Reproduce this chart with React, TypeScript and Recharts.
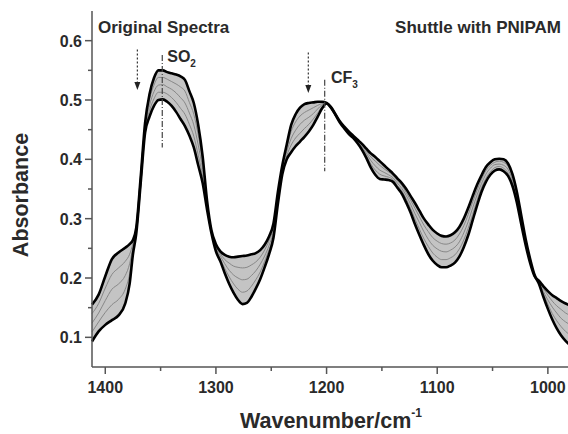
import {
  Area,
  ComposedChart,
  Line,
  ReferenceDot,
  ReferenceLine,
  XAxis,
  YAxis,
} from "recharts";

// wavenumbers (cm-1), plotted right-to-left
const wavenumbers = [
  1412, 1406, 1400, 1394, 1388, 1382, 1378, 1375, 1372, 1368, 1364, 1360, 1356, 1352, 1348, 1344,
  1340, 1336, 1332, 1328, 1324, 1320, 1316, 1312, 1308, 1304, 1300, 1296, 1292, 1288, 1284, 1280,
  1276, 1272, 1268, 1264, 1260, 1256, 1252, 1248, 1244, 1240, 1236, 1232, 1228, 1224, 1220, 1216,
  1212, 1208, 1204, 1200, 1196, 1192, 1188, 1184, 1180, 1176, 1172, 1168, 1164, 1160, 1156, 1152,
  1148, 1144, 1140, 1136, 1132, 1128, 1124, 1120, 1116, 1112, 1108, 1104, 1100, 1096, 1092, 1088,
  1084, 1080, 1076, 1072, 1068, 1064, 1060, 1056, 1052, 1048, 1044, 1040, 1036, 1032, 1028, 1024,
  1020, 1016, 1012, 1008, 1004, 1000, 996, 992, 988, 984, 980,
];

// first spectrum (black, top of the bundle)
const firstSpectrum = [
  0.155, 0.172, 0.203, 0.232, 0.243, 0.251, 0.257, 0.264, 0.285, 0.37, 0.462, 0.51, 0.537, 0.55, 0.55, 0.547,
  0.545, 0.543, 0.54, 0.534, 0.515, 0.495, 0.458, 0.405, 0.33, 0.28, 0.257, 0.245, 0.239, 0.236, 0.235, 0.236,
  0.237, 0.238, 0.24, 0.242, 0.247, 0.256, 0.27, 0.292, 0.345, 0.39, 0.425, 0.458, 0.476, 0.487, 0.493, 0.495,
  0.496, 0.497, 0.497, 0.495, 0.488, 0.476, 0.464, 0.455, 0.447, 0.44, 0.433, 0.426, 0.418, 0.41, 0.404, 0.397,
  0.39, 0.383, 0.376, 0.368, 0.36, 0.35, 0.338, 0.326, 0.313, 0.3, 0.29, 0.281, 0.275, 0.271, 0.27, 0.272,
  0.277, 0.286, 0.3, 0.318, 0.338, 0.357, 0.373, 0.387, 0.395, 0.4, 0.401, 0.4, 0.393, 0.375, 0.345, 0.305,
  0.265, 0.232, 0.205, 0.19, 0.168, 0.148, 0.13, 0.115, 0.103, 0.094, 0.087,
];

const spectrumQ1 = [
  0.14, 0.157, 0.183, 0.206, 0.217, 0.228, 0.24, 0.258, 0.283, 0.368, 0.458, 0.501, 0.525, 0.538, 0.538, 0.535,
  0.531, 0.527, 0.522, 0.515, 0.496, 0.476, 0.441, 0.394, 0.326, 0.279, 0.254, 0.241, 0.231, 0.225, 0.22, 0.218,
  0.217, 0.218, 0.222, 0.227, 0.235, 0.247, 0.263, 0.286, 0.34, 0.386, 0.419, 0.447, 0.463, 0.473, 0.479, 0.483,
  0.487, 0.491, 0.494, 0.495, 0.488, 0.476, 0.464, 0.454, 0.446, 0.439, 0.432, 0.424, 0.414, 0.404, 0.397, 0.39,
  0.384, 0.379, 0.373, 0.364, 0.356, 0.344, 0.331, 0.317, 0.303, 0.289, 0.278, 0.268, 0.262, 0.258, 0.257, 0.259,
  0.264, 0.274, 0.288, 0.307, 0.328, 0.348, 0.366, 0.381, 0.39, 0.395, 0.397, 0.395, 0.388, 0.37, 0.341, 0.301,
  0.263, 0.23, 0.205, 0.191, 0.173, 0.156, 0.14, 0.128, 0.118, 0.11, 0.104,
];

const spectrumQ2 = [
  0.124, 0.141, 0.162, 0.181, 0.19, 0.204, 0.224, 0.252, 0.28, 0.365, 0.454, 0.491, 0.514, 0.525, 0.526, 0.522,
  0.518, 0.512, 0.504, 0.495, 0.478, 0.458, 0.424, 0.383, 0.323, 0.278, 0.251, 0.237, 0.224, 0.213, 0.205, 0.2,
  0.197, 0.198, 0.204, 0.212, 0.223, 0.237, 0.255, 0.28, 0.335, 0.383, 0.413, 0.435, 0.449, 0.459, 0.466, 0.471,
  0.477, 0.485, 0.492, 0.495, 0.488, 0.476, 0.463, 0.454, 0.445, 0.438, 0.43, 0.421, 0.41, 0.398, 0.389, 0.382,
  0.378, 0.374, 0.369, 0.36, 0.351, 0.339, 0.324, 0.308, 0.293, 0.278, 0.265, 0.255, 0.249, 0.245, 0.244, 0.247,
  0.252, 0.261, 0.276, 0.295, 0.318, 0.34, 0.359, 0.375, 0.385, 0.391, 0.392, 0.39, 0.383, 0.365, 0.336, 0.298,
  0.26, 0.229, 0.204, 0.193, 0.177, 0.163, 0.151, 0.141, 0.132, 0.126, 0.121,
];

const spectrumQ3 = [
  0.109, 0.126, 0.142, 0.155, 0.164, 0.181, 0.207, 0.246, 0.278, 0.363, 0.449, 0.482, 0.502, 0.513, 0.513, 0.51,
  0.504, 0.496, 0.486, 0.476, 0.459, 0.439, 0.407, 0.371, 0.319, 0.276, 0.248, 0.232, 0.216, 0.202, 0.19, 0.181,
  0.176, 0.178, 0.186, 0.197, 0.21, 0.228, 0.248, 0.274, 0.33, 0.379, 0.406, 0.424, 0.436, 0.444, 0.452, 0.459,
  0.468, 0.478, 0.489, 0.494, 0.487, 0.475, 0.463, 0.453, 0.444, 0.437, 0.429, 0.419, 0.406, 0.392, 0.382, 0.375,
  0.372, 0.37, 0.366, 0.356, 0.347, 0.333, 0.317, 0.299, 0.282, 0.266, 0.253, 0.242, 0.235, 0.231, 0.231, 0.234,
  0.239, 0.249, 0.264, 0.284, 0.307, 0.331, 0.352, 0.368, 0.379, 0.386, 0.388, 0.385, 0.377, 0.36, 0.332, 0.294,
  0.258, 0.227, 0.204, 0.194, 0.182, 0.171, 0.161, 0.153, 0.147, 0.141, 0.137,
];

// last spectrum (black, bottom of the bundle)
const lastSpectrum = [
  0.093, 0.11, 0.121, 0.129, 0.137, 0.157, 0.19, 0.24, 0.275, 0.36, 0.445, 0.472, 0.49, 0.5, 0.501, 0.497,
  0.49, 0.48, 0.468, 0.456, 0.44, 0.42, 0.39, 0.36, 0.315, 0.275, 0.245, 0.228, 0.208, 0.19, 0.175, 0.163,
  0.156, 0.158, 0.168, 0.182, 0.198, 0.218, 0.24, 0.268, 0.325, 0.375, 0.4, 0.412, 0.422, 0.43, 0.438, 0.447,
  0.458, 0.472, 0.486, 0.494, 0.487, 0.475, 0.462, 0.452, 0.443, 0.436, 0.427, 0.416, 0.402, 0.386, 0.374, 0.367,
  0.366, 0.365, 0.362, 0.352, 0.342, 0.327, 0.31, 0.29, 0.272, 0.255, 0.24, 0.229, 0.222, 0.218, 0.218, 0.221,
  0.226, 0.236, 0.252, 0.272, 0.297, 0.322, 0.345, 0.362, 0.374, 0.381, 0.383, 0.38, 0.372, 0.355, 0.327, 0.29,
  0.255, 0.225, 0.203, 0.195, 0.186, 0.178, 0.171, 0.166, 0.161, 0.157, 0.154,
];

const xTicks = [1400, 1350, 1300, 1250, 1200, 1150, 1100, 1050, 1000];
const yTicks = [0.1, 0.15, 0.2, 0.25, 0.3, 0.35, 0.4, 0.45, 0.5, 0.55, 0.6];

const data = wavenumbers.map((wn, i) => ({
  wn,
  first: firstSpectrum[i],
  q1: spectrumQ1[i],
  q2: spectrumQ2[i],
  q3: spectrumQ3[i],
  last: lastSpectrum[i],
  band: [firstSpectrum[i], lastSpectrum[i]],
}));

const FONT = "'Liberation Sans', Arial, sans-serif";
const AXIS = "#555";
const TEXT = "#2a2a2a";

function XTick({ x, y, payload }: any) {
  const major = payload.value % 100 === 0;
  return (
    <g>
      <line x1={x} x2={x} y1={y} y2={y + (major ? 7 : 4)} stroke={AXIS} strokeWidth={1.5} />
      {major && (
        <text x={x} y={y + 26} textAnchor="middle" fontFamily={FONT} fontWeight="bold" fontSize={16} fill={TEXT}>
          {payload.value}
        </text>
      )}
    </g>
  );
}

function YTick({ x, y, payload }: any) {
  const v = payload.value;
  const major = Math.abs(v * 10 - Math.round(v * 10)) < 1e-6;
  return (
    <g>
      <line x1={x - (major ? 7 : 4)} x2={x} y1={y} y2={y} stroke={AXIS} strokeWidth={1.5} />
      {major && (
        <text x={x - 10} y={y + 6} textAnchor="end" fontFamily={FONT} fontWeight="bold" fontSize={16} fill={TEXT}>
          {v.toFixed(1)}
        </text>
      )}
    </g>
  );
}

const arrowHead = ({ cx, cy }: any) => (
  <polygon points={`${cx - 3},${cy - 8} ${cx + 3},${cy - 8} ${cx},${cy}`} fill="#222" />
);

const subLabel = (main: string, sub: string) => ({ cx, cy }: any) => (
  <text x={cx} y={cy} fontFamily={FONT} fontWeight="bold" fontSize={16} fill={TEXT}>
    {main}
    <tspan fontSize={10} dy={5}>{sub}</tspan>
  </text>
);

export default function App() {
  return (
    <div style={{ position: "absolute", left: 0, top: 0, width: 568, height: 434, overflow: "hidden", background: "#fff" }}>
      <ComposedChart width={572} height={434} data={data} margin={{ top: 11, right: 2, bottom: 0, left: 0 }}>
        <XAxis
          dataKey="wn"
          type="number"
          domain={[980, 1412]}
          reversed
          ticks={xTicks}
          interval={0}
          height={67}
          tickSize={0}
          tickMargin={0}
          tickLine={false}
          tick={<XTick />}
          axisLine={{ stroke: AXIS, strokeWidth: 1.5 }}
        />
        <XAxis
          xAxisId="top"
          orientation="top"
          type="number"
          domain={[980, 1412]}
          reversed
          height={0}
          tick={false}
          tickLine={false}
          axisLine={{ stroke: AXIS, strokeWidth: 1.5 }}
        />
        <YAxis
          type="number"
          domain={[0.05, 0.65]}
          ticks={yTicks}
          interval={0}
          width={92}
          tickSize={0}
          tickMargin={0}
          tickLine={false}
          tick={<YTick />}
          axisLine={{ stroke: AXIS, strokeWidth: 1.5 }}
        />
        <Area
          dataKey="band"
          type="monotone"
          stroke="none"
          fill="#c4c4c4"
          fillOpacity={1}
          isAnimationActive={false}
          activeDot={false}
        />
        {["q1", "q2", "q3"].map((k) => (
          <Line
            key={k}
            dataKey={k}
            type="monotone"
            stroke="#808080"
            strokeWidth={0.9}
            dot={false}
            activeDot={false}
            isAnimationActive={false}
          />
        ))}
        <Line dataKey="first" type="monotone" stroke="#000" strokeWidth={2.6} dot={false} activeDot={false} isAnimationActive={false} />
        <Line dataKey="last" type="monotone" stroke="#000" strokeWidth={2.6} dot={false} activeDot={false} isAnimationActive={false} />

        <ReferenceLine segment={[{ x: 1348.5, y: 0.576 }, { x: 1348.5, y: 0.42 }]} stroke="#444" strokeWidth={1.2} strokeDasharray="6 2 1 2" />
        <ReferenceLine segment={[{ x: 1201.7, y: 0.534 }, { x: 1201.7, y: 0.38 }]} stroke="#444" strokeWidth={1.2} strokeDasharray="6 2 1 2" />
        <ReferenceLine segment={[{ x: 1371, y: 0.585 }, { x: 1371, y: 0.525 }]} stroke="#333" strokeWidth={1.2} strokeDasharray="2 2" />
        <ReferenceLine segment={[{ x: 1216.5, y: 0.58 }, { x: 1216.5, y: 0.52 }]} stroke="#333" strokeWidth={1.2} strokeDasharray="2 2" />
        <ReferenceDot x={1371} y={0.517} r={1} shape={arrowHead} />
        <ReferenceDot x={1216.5} y={0.512} r={1} shape={arrowHead} />
        <ReferenceDot x={1344} y={0.5646} r={1} shape={subLabel("SO", "2")} />
        <ReferenceDot x={1196} y={0.529} r={1} shape={subLabel("CF", "3")} />
      </ComposedChart>
      <svg width={568} height={434} style={{ position: "absolute", left: 0, top: 0, pointerEvents: "none" }}>
        <text x={98} y={33} fontFamily={FONT} fontWeight="bold" fontSize={17} fill={TEXT}>
          Original Spectra
        </text>
        <text x={561} y={33} textAnchor="end" fontFamily={FONT} fontWeight="bold" fontSize={17} fill={TEXT}>
          Shuttle with PNIPAM
        </text>
        <text
          x={28}
          y={195}
          textAnchor="middle"
          transform="rotate(-90 28 195)"
          fontFamily={FONT}
          fontWeight="bold"
          fontSize={21.5}
          fill={TEXT}
        >
          Absorbance
        </text>
        <text x={240} y={428} fontFamily={FONT} fontWeight="bold" fontSize={21.5} fill={TEXT}>
          Wavenumber/cm
          <tspan fontSize={12} dy={-11}>-1</tspan>
        </text>
      </svg>
    </div>
  );
}
